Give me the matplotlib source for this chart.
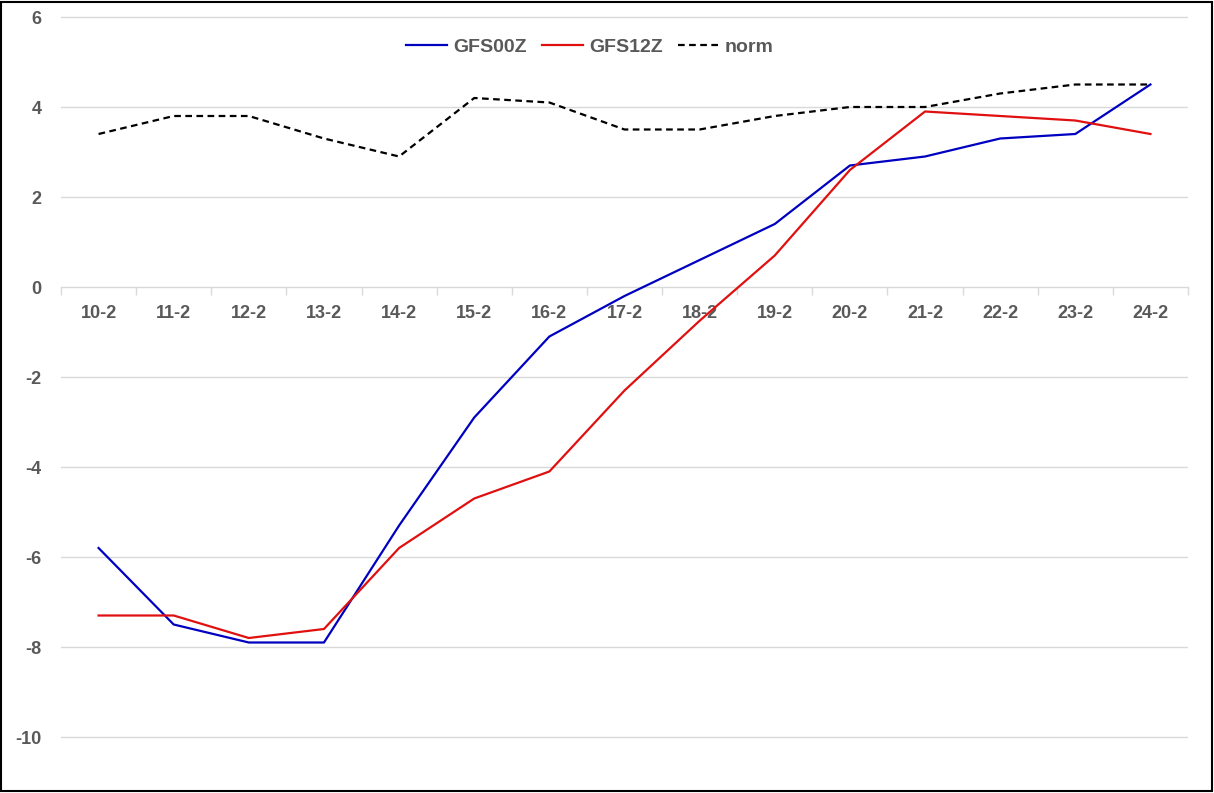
import matplotlib
matplotlib.use("Agg")
import matplotlib.pyplot as plt
from matplotlib.patches import Rectangle
import numpy as np

categories = ["10-2", "11-2", "12-2", "13-2", "14-2", "15-2", "16-2", "17-2",
              "18-2", "19-2", "20-2", "21-2", "22-2", "23-2", "24-2"]
gfs00z = [-5.8, -7.5, -7.9, -7.9, -5.3, -2.9, -1.1, -0.2, 0.6, 1.4, 2.7, 2.9, 3.3, 3.4, 4.5]
gfs12z = [-7.3, -7.3, -7.8, -7.6, -5.8, -4.7, -4.1, -2.3, -0.75, 0.7, 2.6, 3.9, 3.8, 3.7, 3.4]
norm = [3.4, 3.8, 3.8, 3.3, 2.9, 4.2, 4.1, 3.5, 3.5, 3.8, 4.0, 4.0, 4.3, 4.5, 4.5]
yticks = [-10, -8, -6, -4, -2, 0, 2, 4, 6]

plt.rcParams['font.family'] = ['Liberation Sans', 'DejaVu Sans']
plt.rcParams['font.weight'] = 'bold'
gray = '#595959'
grid = '#d9d9d9'

W, H = 1214, 793
fig = plt.figure(figsize=(W / 100, H / 100), dpi=100)
# axes: left 61px, right 1188px; y 6 -> 17px, -10 -> 737px
ppu = (737 - 17) / 16.0
top_px, bot_px = 5, 788
ytop = 6 + (17 - top_px) / ppu
ybot = -10 - (bot_px - 737) / ppu
ax = fig.add_axes([61 / W, 1 - bot_px / H, (1188 - 61) / W, (bot_px - top_px) / H])

x = np.arange(len(categories))
ax.plot(x, gfs00z, color='#0000c0', lw=1.6, label='GFS00Z', zorder=3)
ax.plot(x, gfs12z, color='#e01010', lw=1.6, label='GFS12Z', zorder=3)
ax.plot(x, norm, color='black', lw=1.6, ls=(0, (3, 2)), label='norm', zorder=3)

ax.set_xlim(-0.5, len(categories) - 0.5)
ax.set_ylim(ybot, ytop)

for s in ['top', 'right', 'left']:
    ax.spines[s].set_visible(False)
ax.spines['bottom'].set_position(('data', 0))
ax.spines['bottom'].set_color(grid)
ax.spines['bottom'].set_linewidth(1.0)

ax.set_yticks(yticks)
ax.set_yticklabels([str(v) for v in yticks])
ax.tick_params(axis='y', length=0, pad=14, labelsize=13, labelcolor=gray)
ax.yaxis.grid(True, color=grid, lw=1.0)
ax.set_axisbelow(True)
# hide grid line at zero (axis line replaces it)
for gl, v in zip(ax.yaxis.get_gridlines(), yticks):
    if v == 0:
        gl.set_visible(False)

ax.set_xticks(x)
ax.set_xticklabels(categories)
ax.set_xticks(np.arange(-0.5, len(categories)), minor=True)
ax.tick_params(axis='x', which='major', length=0, pad=13, labelsize=13, labelcolor=gray)
ax.tick_params(axis='x', which='minor', length=6, width=1.0, color=grid, direction='out')

leg = fig.legend(loc='center', bbox_to_anchor=(590 / W, 1 - 47 / H), ncol=3, frameon=False,
                 fontsize=14, handlelength=2.1, handletextpad=0.3, columnspacing=0.8)
for t in leg.get_texts():
    t.set_color(gray)

fig.patches.append(Rectangle((0.001, 0.002), 0.997, 0.996, transform=fig.transFigure,
                             fill=False, edgecolor='black', lw=1.5))

fig.savefig('out.png', dpi=100)
